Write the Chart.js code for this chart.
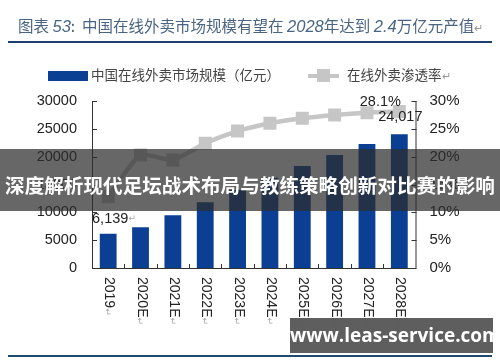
<!DOCTYPE html>
<html><head><meta charset="utf-8">
<script src="https://cdn.jsdelivr.net/npm/chart.js@4.4.1/dist/chart.umd.min.js"></script>
<style>
html,body{margin:0;padding:0;background:#fff;}
#wrap{position:relative;width:500px;height:362px;overflow:hidden;font-family:"Noto Sans CJK SC","Noto Sans",sans-serif;}
canvas{position:absolute;left:0;top:0;}
.abs{position:absolute;white-space:nowrap;}
#title{left:18px;top:13px;font-size:15.5px;color:#4a6584;line-height:24px;}
#title i{font-family:"Liberation Sans",Arial,sans-serif;font-size:16.5px;}
#tline{left:8px;top:41px;width:484px;height:2px;background:#1f3d6e;}
#bline{left:8px;top:355px;width:484px;height:2px;background:#1f4a6e;}
.leg{font-size:13.5px;color:#444;line-height:18px;}
#banner{left:0;top:149px;width:500px;height:62px;background:rgba(45,45,45,0.72);}
#btext{left:0;top:171px;width:500px;text-align:center;color:#fff;font-weight:bold;font-size:19.6px;line-height:28px;}
#wm{left:290px;top:318px;width:203px;height:35px;background:rgba(85,85,85,0.95);color:#fff;font-family:"Open Sans","DejaVu Sans",sans-serif;font-weight:bold;font-size:19px;line-height:35px;text-align:center;}
.ret{color:#999;font-size:11px;}
</style></head>
<body><div id="wrap">
<canvas id="c" width="500" height="362"></canvas>
<div class="abs" id="title">图表 <i>53</i>:&nbsp; 中国在线外卖市场规模有望在 <i>2028</i>年达到 <i>2.4</i>万亿元产值<span class="ret">↵</span></div>
<div class="abs" id="tline"></div>
<div class="abs" style="left:48px;top:71px;width:40px;height:10px;background:#0b3f94;"></div>
<div class="abs leg" style="left:91px;top:65px;">中国在线外卖市场规模（亿元）</div>
<div class="abs" style="left:308px;top:74px;width:31px;height:4px;background:#c6c6c6;"></div>
<div class="abs" style="left:317px;top:69px;width:13px;height:13px;background:#c6c6c6;"></div>
<div class="abs leg" style="left:347px;top:65px;">在线外卖渗透率<span class="ret">↵</span></div>
<div class="abs" id="banner"></div>
<div class="abs" id="btext">深度解析现代足坛战术布局与教练策略创新对比赛的影响</div>
<div class="abs" id="wm">www.leas-service.com</div>
<div class="abs" id="bline"></div>
</div>
<script>
const categories = ["2019","2020E","2021E","2022E","2023E","2024E","2025E","2026E","2027E","2028E"];
const marketSize = [6139, 7310, 9470, 11800, 14000, 16200, 18320, 20300, 22270, 24017];
const penetration = [12.8, 20.3, 19.4, 22.4, 24.6, 26.0, 26.9, 27.5, 27.9, 28.1];
const leftTicks = [0, 5000, 10000, 15000, 20000, 25000, 30000];
const rightTicks = [0, 5, 10, 15, 20, 25, 30];

const AREA = {left:92, right:415.5, top:101, bottom:268};

const decor = {
  id:'decor',
  afterDraw(chart){
    const ctx = chart.ctx, a = chart.chartArea;
    const x = chart.scales.x, y = chart.scales.y, y1 = chart.scales.y1;
    ctx.save();
    ctx.strokeStyle = '#333'; ctx.lineWidth = 1;
    ctx.beginPath();
    ctx.moveTo(a.left+0.5, a.top); ctx.lineTo(a.left+0.5, a.bottom+0.5);
    ctx.lineTo(a.right+0.5, a.bottom+0.5); ctx.lineTo(a.right+0.5, a.top);
    leftTicks.forEach(v=>{const py=Math.round(y.getPixelForValue(v))+0.5; ctx.moveTo(a.left,py); ctx.lineTo(a.left+5,py);});
    rightTicks.forEach(v=>{const py=Math.round(y1.getPixelForValue(v))+0.5; ctx.moveTo(a.right+1,py); ctx.lineTo(a.right-4,py);});
    for(let i=1;i<categories.length;i++){
      const px = Math.round((x.getPixelForValue(i-1)+x.getPixelForValue(i))/2)+0.5;
      ctx.moveTo(px,a.bottom); ctx.lineTo(px,a.bottom-4);
    }
    ctx.stroke();
    ctx.textBaseline = 'middle'; ctx.textAlign = 'left';
    categories.forEach((c,i)=>{
      const px = x.getPixelForValue(i);
      ctx.save(); ctx.translate(px+1, a.bottom+9); ctx.rotate(Math.PI/2);
      ctx.font = '14px "Liberation Sans", Arial, sans-serif';
      ctx.fillStyle='#222'; ctx.fillText(c,0,0);
      const w = ctx.measureText(c).width;
      ctx.fillStyle='#aaa'; ctx.font='9px "DejaVu Sans", sans-serif'; ctx.fillText('↵', w, 2);
      ctx.restore();
    });
    ctx.font = '14.5px "Liberation Sans", Arial, sans-serif';
    ctx.fillStyle = '#222'; ctx.textAlign='center';
    const x0 = x.getPixelForValue(0), xl = x.getPixelForValue(categories.length-1);
    ctx.fillText('6,139', x0+2, y.getPixelForValue(marketSize[0])-15);
    ctx.fillStyle='#aaa'; ctx.font='9px "DejaVu Sans", sans-serif';
    ctx.fillText('↵', x0+24, y.getPixelForValue(marketSize[0])-15);
    ctx.font = '14.5px "Liberation Sans", Arial, sans-serif'; ctx.fillStyle='#222';
    ctx.fillText('24,017', xl+1, y.getPixelForValue(marketSize[9])-17);
    ctx.fillText('28.1%', xl-19, y1.getPixelForValue(penetration[9])-10);
    ctx.restore();
  }
};

new Chart(document.getElementById('c'), {
  data:{
    labels: categories,
    datasets:[
      {type:'line', data:penetration, yAxisID:'y1', order:0,
       borderColor:'#c6c6c6', borderWidth:4.5, pointStyle:'rect', pointRadius:9.2,
       pointBackgroundColor:'#c6c6c6', pointBorderColor:'#c6c6c6', pointBorderWidth:0, tension:0.2},
      {type:'bar', data:marketSize, yAxisID:'y', order:1,
       backgroundColor:'#0b3f94', categoryPercentage:1, barPercentage:0.52}
    ]
  },
  options:{
    responsive:false, animation:false,
    layout:{padding:{top:AREA.top, bottom:0, left:0, right:0}},
    plugins:{legend:{display:false}, tooltip:{enabled:false}},
    scales:{
      x:{offset:true, grid:{display:false, drawTicks:false}, border:{display:false}, ticks:{display:false},
         afterFit(s){s.height = 362-AREA.bottom;}},
      y:{position:'left', min:0, max:30000, grid:{display:false, drawTicks:false}, border:{display:false},
         ticks:{stepSize:5000, padding:15, color:'#222', callback:v=>String(v), font:{family:'"Liberation Sans", Arial, sans-serif', size:14.5}},
         afterFit(s){s.width = AREA.left;}},
      y1:{position:'right', min:0, max:30, grid:{display:false, drawTicks:false}, border:{display:false},
         ticks:{stepSize:5, padding:14, color:'#222', callback:v=>v+'%', font:{family:'"Liberation Sans", Arial, sans-serif', size:15}},
         afterFit(s){s.width = 500-AREA.right;}}
    }
  },
  plugins:[decor]
});
</script>
</body></html>
